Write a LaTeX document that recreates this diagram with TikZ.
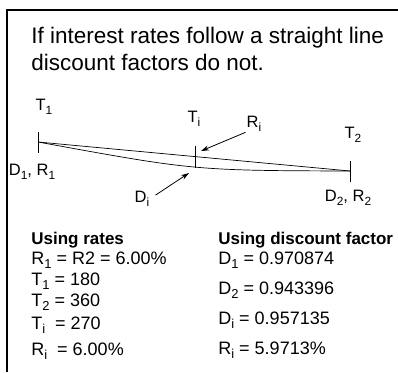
\documentclass[tikz,border=0pt]{standalone}
\usepackage{fontspec}
\setmainfont{Liberation Sans}
\usetikzlibrary{arrows.meta,calc}

\tikzset{
  lbl/.style={inner sep=0pt,font=\fontsize{16.5}{19}\selectfont},
  txt/.style={inner sep=0pt,anchor=base west,font=\fontsize{18}{21}\selectfont},
  hdr/.style={txt,font=\fontsize{17}{20}\selectfont\bfseries},
  arr/.style={-{Stealth[length=8pt,width=5pt]},line width=0.8pt}
}
\makeatletter
\newcommand{\subidx}[1]{\raisebox{-0.45ex}{\fontsize{\dimexpr0.72\dimexpr\f@size pt\relax\relax}{1}\selectfont #1}}
\makeatother

\begin{document}
\begin{tikzpicture}[x=1pt,y=-1pt,line width=0.7pt]
        \useasboundingbox (0,0) rectangle (398,372);
        % frame, only top and left edge show
        \draw[line width=1.3pt] (7,372) -- (7,10) -- (398,10);
        \node[anchor=base west,inner sep=0pt,align=left,
              font=\fontsize{22.5}{27}\selectfont] (title) at (31,70)
          {If interest rates follow a straight line\\discount factors do not.};
        % the two curves between T1 and T2
        \coordinate (p1) at (38,142);
        \coordinate (p2) at (350,171);
        \coordinate (pi) at ($(p1)!0.505!(p2)$);
        \draw (p1) -- (p2);
        \draw (p1) .. controls ($(p1)!0.5!(p2)+(0,14)$) .. (p2);
        \draw ($(p1)+(0,-10)$) -- ($(p1)+(0,11)$);
        \draw ($(pi)+(0,-11)$) -- ($(pi)+(0,11)$);
        \draw ($(p2)+(0,-10)$) -- ($(p2)+(0,11)$);
        \node[lbl] (t1) at (44,107) {T\subidx{1}};
        \node[lbl] (ti) at (194,119) {T\subidx{i}};
        \node[lbl] (t2) at (353,135) {T\subidx{2}};
        \node[lbl] (d1) at (32,172) {D\subidx{1}, R\subidx{1}};
        \node[lbl] (d2) at (348,198) {D\subidx{2}, R\subidx{2}};
        \node[lbl] (ri) at (254,124) {R\subidx{i}};
        \node[lbl] (di) at (142,199) {D\subidx{i}};
        \coordinate (ri tip) at (201,151);
        \coordinate (di tip) at (189,173);
        \draw[arr,shorten <=1pt] (ri.south west) -- (ri tip);
        \draw[arr,shorten <=7pt] (di.east) -- (di tip);
        % left column
        \node[hdr] (lh) at (31,244) {Using rates};
        \node[txt] (l1) at (31,264) {R\subidx{1} = R2 = 6.00\%};
        \node[txt] (l2) at (31,285) {T\subidx{1} = 180};
        \node[txt] (l3) at (31,306) {T\subidx{2} = 360};
        \node[txt] (l4) at (31,329) {T\subidx{i}\ \ = 270};
        \node[txt] (l5) at (31,355) {R\subidx{i}\ \ = 6.00\%};
        % right column
        \node[hdr] (rh) at (218,244) {Using discount factor};
        \node[txt] (r1) at (218,264) {D\subidx{1} = 0.970874};
        \node[txt] (r2) at (218,294) {D\subidx{2} = 0.943396};
        \node[txt] (r3) at (218,324) {D\subidx{i} = 0.957135};
        \node[txt] (r4) at (218,354) {R\subidx{i} = 5.9713\%};
      \end{tikzpicture}
\end{document}
